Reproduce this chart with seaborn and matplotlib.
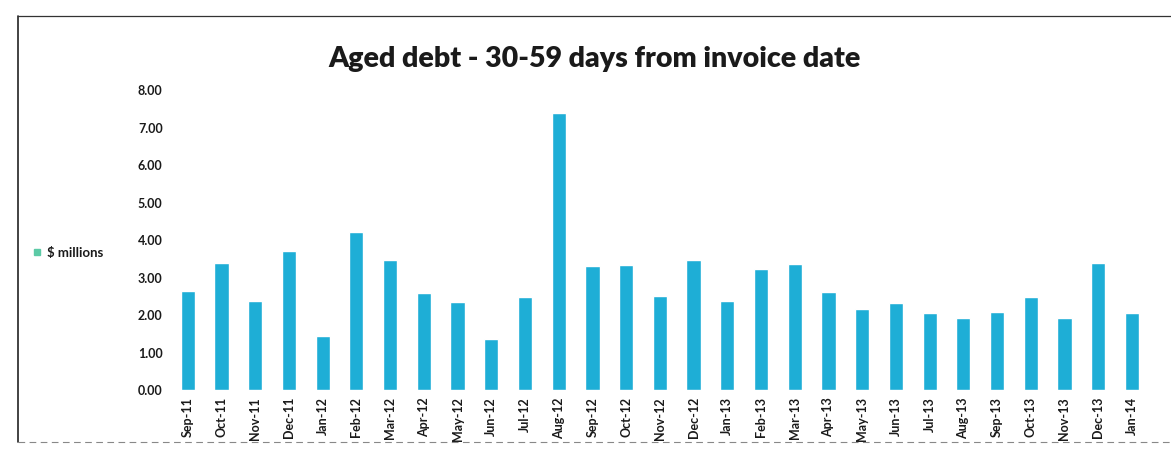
import matplotlib
matplotlib.use("Agg")
import matplotlib.pyplot as plt
from matplotlib.lines import Line2D
import seaborn as sns
import pandas as pd

months = ["Sep-11", "Oct-11", "Nov-11", "Dec-11", "Jan-12", "Feb-12", "Mar-12",
          "Apr-12", "May-12", "Jun-12", "Jul-12", "Aug-12", "Sep-12", "Oct-12",
          "Nov-12", "Dec-12", "Jan-13", "Feb-13", "Mar-13", "Apr-13", "May-13",
          "Jun-13", "Jul-13", "Aug-13", "Sep-13", "Oct-13", "Nov-13", "Dec-13",
          "Jan-14"]
debt_millions = [2.65, 3.38, 2.37, 3.72, 1.44, 4.22, 3.48,
                 2.58, 2.36, 1.36, 2.48, 7.38, 3.30, 3.33,
                 2.50, 3.46, 2.37, 3.22, 3.36, 2.61, 2.16,
                 2.32, 2.05, 1.92, 2.08, 2.48, 1.92, 3.39,
                 2.05]
y_ticks = [0, 1, 2, 3, 4, 5, 6, 7, 8]
title_text = "Aged debt - 30-59 days from invoice date"
series_label = "\\$ millions"

BAR_COLOR = "#1eaed6"
LEGEND_COLOR = "#5ccaa6"
TEXT_COLOR = "#1a1a1a"

sns.set_style("white")
plt.rcParams["font.family"] = ["Lato", "DejaVu Sans"]

df = pd.DataFrame({"month": months, "value": debt_millions})

fig = plt.figure(figsize=(11.71, 4.70), dpi=100)
ax = fig.add_axes([0.146, 0.170, 0.835, 0.638])

sns.barplot(data=df, x="month", y="value", color=BAR_COLOR, width=0.42,
            saturation=1, ax=ax)

ax.set_xlim(-0.5, len(months) - 0.5)
ax.set_ylim(0, 8)
ax.set_yticks(y_ticks)
ax.set_yticklabels([f"{v:.2f}" for v in y_ticks], fontsize=9,
                   fontweight="bold", color=TEXT_COLOR)
ax.set_xticks(range(len(months)))
ax.set_xticklabels(months, rotation=90, fontsize=9, fontweight="bold",
                   color=TEXT_COLOR)
ax.tick_params(axis="both", length=0)
ax.tick_params(axis="y", pad=6)
ax.tick_params(axis="x", pad=5)
ax.set_xlabel("")
ax.set_ylabel("")
for s in ax.spines.values():
    s.set_visible(False)

fig.text(0.508, 0.875, title_text, ha="center", va="center", fontsize=20.5,
         fontweight="heavy", color=TEXT_COLOR)

handle = Line2D([], [], linestyle="none", marker="s", markersize=4,
                color=LEGEND_COLOR)
fig.legend([handle], [series_label], loc="center left",
           bbox_to_anchor=(0.018, 0.462), frameon=False, handlelength=0.6,
           handletextpad=0.5, prop={"size": 9.5, "weight": "bold"},
           labelcolor=TEXT_COLOR)

# chart frame edges
fig.add_artist(Line2D([0.015, 0.015], [0.06, 0.965], transform=fig.transFigure,
                      color="#222222", lw=1.2))
fig.add_artist(Line2D([0.015, 1.0], [0.965, 0.965], transform=fig.transFigure,
                      color="#333333", lw=0.9))
fig.add_artist(Line2D([0.015, 1.0], [0.06, 0.06], transform=fig.transFigure,
                      color="#888888", lw=0.8, linestyle=(0, (6, 4))))

fig.savefig("out.png", dpi=100, facecolor="white")
